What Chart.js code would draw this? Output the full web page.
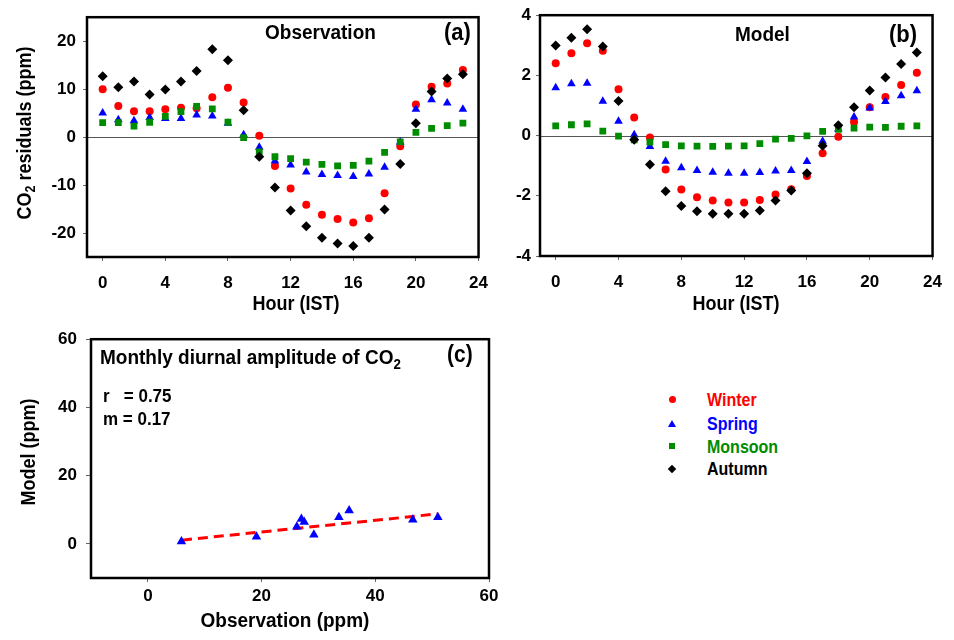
<!DOCTYPE html>
<html><head><meta charset="utf-8">
<script src="https://cdn.jsdelivr.net/npm/chart.js@4.4.0/dist/chart.umd.min.js"></script>
<style>
body{margin:0;background:#fff;}
#wrap{position:relative;width:954px;height:640px;overflow:hidden;background:#fff;font-family:'Liberation Sans',Arial,sans-serif;font-weight:bold;color:#000;}
.c{position:absolute;}
.t{position:absolute;white-space:pre;line-height:1;}
sub{font-size:70%;vertical-align:-0.3em;line-height:0;}
.mk{position:absolute;}
</style></head><body>
<div id="wrap">
  <canvas id="ca" class="c" width="500" height="320" style="left:0;top:0"></canvas>
  <canvas id="cb" class="c" width="454" height="320" style="left:500px;top:0"></canvas>
  <canvas id="cc" class="c" width="520" height="320" style="left:0;top:320px"></canvas>

  <div class="t" style="left:265px;top:32px;font-size:19px;transform:translateY(-50%) scaleY(1.1)">Observation</div>
  <div class="t" style="left:444px;top:32px;font-size:22px;transform:translateY(-50%) scaleY(1.1)">(a)</div>
  <div class="t" style="left:735px;top:34px;font-size:19px;transform:translateY(-50%) scaleY(1.1)">Model</div>
  <div class="t" style="left:889px;top:34px;font-size:22px;transform:translateY(-50%) scaleY(1.1)">(b)</div>
  <div class="t" style="left:100px;top:357px;font-size:19px;transform:translateY(-50%) scaleY(1.1)">Monthly diurnal amplitude of CO<sub>2</sub></div>
  <div class="t" style="left:447px;top:354px;font-size:21px;transform:translateY(-50%) scaleY(1.1)">(c)</div>
  <div class="t" style="left:103px;top:396px;font-size:17px;transform:translateY(-50%) scaleY(1.1)">r   = 0.75</div>
  <div class="t" style="left:103px;top:419px;font-size:17px;transform:translateY(-50%) scaleY(1.1)">m = 0.17</div>

  <div class="t" style="left:24px;top:133px;font-size:18px;transform:translate(-50%,-50%) rotate(-90deg) scaleY(1.1)">CO<sub>2</sub> residuals (ppm)</div>
  <div class="t" style="left:28px;top:452px;font-size:18px;transform:translate(-50%,-50%) rotate(-90deg) scaleY(1.1)">Model (ppm)</div>
  <div class="t" style="left:296px;top:303px;font-size:18px;transform:translate(-50%,-50%) scaleY(1.1)">Hour (IST)</div>
  <div class="t" style="left:736px;top:303px;font-size:18px;transform:translate(-50%,-50%) scaleY(1.1)">Hour (IST)</div>
  <div class="t" style="left:285px;top:620px;font-size:19px;transform:translate(-50%,-50%) scaleY(1.1)">Observation (ppm)</div>

  <div class="mk" style="left:669px;top:396px;width:7px;height:7px;border-radius:50%;background:#ff0000"></div>
  <div class="mk" style="left:668px;top:420px;width:0;height:0;border-left:4px solid transparent;border-right:4px solid transparent;border-bottom:7px solid #0000ff"></div>
  <div class="mk" style="left:669px;top:443px;width:6px;height:6px;background:#008c00"></div>
  <div class="mk" style="left:669px;top:466px;width:6px;height:6px;background:#000;transform:rotate(45deg)"></div>
  <div class="t" style="left:707px;top:400px;font-size:16px;color:#ff0000;transform:translateY(-50%) scaleY(1.12)">Winter</div>
  <div class="t" style="left:707px;top:424px;font-size:16px;color:#0000ff;transform:translateY(-50%) scaleY(1.12)">Spring</div>
  <div class="t" style="left:707px;top:447px;font-size:16px;color:#008c00;transform:translateY(-50%) scaleY(1.12)">Monsoon</div>
  <div class="t" style="left:707px;top:469px;font-size:16px;color:#000;transform:translateY(-50%) scaleY(1.12)">Autumn</div>
</div>
<script>
// ---- data ----
const hours = [0,1,2,3,4,5,6,7,8,9,10,11,12,13,14,15,16,17,18,19,20,21,22,23];
const obsWinter  = [10.0,6.5,5.4,5.4,5.8,6.1,6.0,8.3,10.3,7.2,0.3,-6.0,-10.7,-14.1,-16.2,-17.1,-17.8,-16.9,-11.7,-1.9,6.8,10.5,11.2,14.0];
const obsSpring  = [5.0,3.6,3.4,4.1,3.9,3.9,4.6,4.4,2.9,0.5,-2.1,-5.0,-5.8,-7.3,-7.8,-8.0,-8.2,-7.7,-6.3,-1.0,5.8,7.8,7.1,5.8];
const obsMonsoon = [3.0,3.0,2.3,3.1,4.3,5.3,6.4,5.9,3.1,-0.1,-3.1,-4.1,-4.5,-5.2,-5.7,-6.0,-5.9,-5.0,-3.2,-1.0,1.0,1.8,2.4,2.9];
const obsAutumn  = [12.7,10.4,11.6,8.9,9.9,11.6,13.8,18.3,16.0,5.6,-4.1,-10.5,-15.3,-18.6,-21.0,-22.2,-22.7,-21.0,-15.1,-5.6,2.9,9.5,12.2,13.1];

const modWinter  = [2.40,2.74,3.07,2.82,1.54,0.60,-0.06,-1.13,-1.79,-2.05,-2.16,-2.22,-2.22,-2.14,-1.96,-1.78,-1.34,-0.59,-0.04,0.45,0.94,1.28,1.68,2.09];
const modSpring  = [1.59,1.72,1.74,1.14,0.48,0.03,-0.36,-0.85,-1.07,-1.16,-1.22,-1.25,-1.25,-1.23,-1.18,-1.16,-0.86,-0.19,0.22,0.62,0.92,1.13,1.32,1.49];
const modMonsoon = [0.32,0.36,0.39,0.15,-0.02,-0.14,-0.22,-0.30,-0.34,-0.35,-0.36,-0.35,-0.34,-0.27,-0.12,-0.09,-0.01,0.14,0.21,0.25,0.28,0.27,0.31,0.32];
const modAutumn  = [2.99,3.25,3.53,2.96,1.15,-0.14,-0.96,-1.85,-2.34,-2.51,-2.60,-2.60,-2.60,-2.49,-2.16,-1.82,-1.25,-0.34,0.34,0.94,1.50,1.93,2.38,2.76];

const ampObs   = [5.9,19.1,26.2,27.0,27.5,29.2,33.6,35.4,46.6,51.0];
const ampModel = [0.7,2.1,5.0,7.3,6.4,2.7,7.8,9.8,7.1,7.8];
const fitObs   = [6.0,51.0];
const fitModel = [1.1,8.8];

const hourTicks = [0,4,8,12,16,20,24];
const obsTicks  = [-20,-10,0,10,20];
const modTicks  = [-4,-2,0,2,4];
const ampTicks  = [0,20,40,60];

// ---- helpers ----
const FONT = {family:"'Liberation Sans', Arial, sans-serif", size:17, weight:'bold'};
const COL = {winter:'#ff0000', spring:'#0000ff', monsoon:'#008c00', autumn:'#000000'};

function pts(xs, ys){ return xs.map((x,i)=>({x:x, y:ys[i]})); }

function axis(min, max, tickVals, fitSize, horiz, tl, pad){
  return {
    type:'linear', min:min, max:max,
    afterBuildTicks: s => { s.ticks = tickVals.map(v=>({value:v})); },
    afterFit: s => { if (horiz) s.height = fitSize; else s.width = fitSize; },
    grid:{drawOnChartArea:false, drawTicks:true, tickLength:tl, color:'#666', lineWidth:1},
    border:{display:false},
    ticks:{font:FONT, color:'#000', padding:pad, maxRotation:0, autoSkip:false}
  };
}

const framePlugin = {
  id:'frame',
  beforeDatasetsDraw(chart, args, opts){
    const {ctx, chartArea:a} = chart;
    if (opts.zero){
      const y = chart.scales.y.getPixelForValue(0);
      ctx.save(); ctx.strokeStyle='#555'; ctx.lineWidth=1;
      ctx.beginPath(); ctx.moveTo(a.left, Math.round(y)+0.5); ctx.lineTo(a.right, Math.round(y)+0.5); ctx.stroke();
      ctx.restore();
    }
  },
  afterDraw(chart){
    const {ctx, chartArea:a} = chart;
    ctx.save(); ctx.strokeStyle='#000'; ctx.lineWidth=2.5;
    ctx.strokeRect(a.left, a.top, a.right-a.left, a.bottom-a.top);
    ctx.restore();
  }
};

function seasonSets(w, s, m, a){
  return [
    {label:'Autumn', data:pts(hours,a), pointStyle:'rectRot', pointRadius:5, backgroundColor:COL.autumn, borderColor:COL.autumn, borderWidth:0},
    {label:'Monsoon', data:pts(hours,m), pointStyle:'rect', pointRadius:4.8, backgroundColor:COL.monsoon, borderColor:COL.monsoon, borderWidth:0},
    {label:'Spring', data:pts(hours,s), pointStyle:'triangle', pointRadius:5, backgroundColor:COL.spring, borderColor:COL.spring, borderWidth:0},
    {label:'Winter', data:pts(hours,w), pointStyle:'circle', pointRadius:4, backgroundColor:COL.winter, borderColor:COL.winter, borderWidth:0}
  ];
}

function baseOpts(pad, xs, ys, zero){
  return {
    responsive:false, animation:false, devicePixelRatio:1, events:[],
    layout:{padding:pad},
    plugins:{legend:{display:false}, tooltip:{enabled:false}, frame:{zero:zero}},
    scales:{x:xs, y:ys}
  };
}

new Chart(document.getElementById('ca'), {
  type:'scatter',
  data:{datasets:seasonSets(obsWinter, obsSpring, obsMonsoon, obsAutumn)},
  options:baseOpts({top:13, right:13, left:0, bottom:0},
    axis(-1, 24, hourTicks, 63, true, 4, 12),
    axis(-25, 25, obsTicks, 87, false, 4, 7), true),
  plugins:[framePlugin]
});

new Chart(document.getElementById('cb'), {
  type:'scatter',
  data:{datasets:seasonSets(modWinter, modSpring, modMonsoon, modAutumn)},
  options:baseOpts({top:14, right:14, left:0, bottom:0},
    axis(-1, 24, hourTicks, 64, true, 4, 12),
    axis(-4, 4, modTicks, 40, false, 4, 5), true),
  plugins:[framePlugin]
});

new Chart(document.getElementById('cc'), {
  type:'scatter',
  data:{datasets:[
    {label:'Amplitude', data:pts(ampObs, ampModel), pointStyle:'triangle', pointRadius:5.5, backgroundColor:COL.spring, borderColor:COL.spring, borderWidth:0, order:1},
    {label:'Fit', type:'line', data:pts(fitObs, fitModel), showLine:true, borderColor:'#ff0000', borderWidth:3, borderDash:[10,6], pointRadius:0, fill:false, order:2}
  ]},
  options:baseOpts({top:13, right:31, left:0, bottom:0},
    axis(-10, 60, ampTicks, 62, true, 4, 4),
    axis(-10, 60, ampTicks, 91, false, 5, 9), false),
  plugins:[framePlugin]
});
</script>
</body></html>
